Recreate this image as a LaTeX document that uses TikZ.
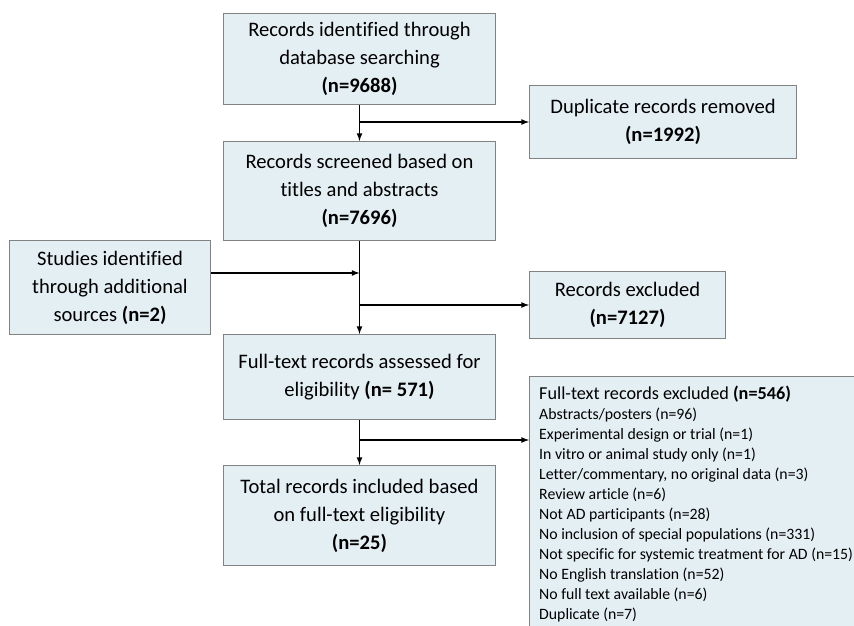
\documentclass[tikz,border=0pt]{standalone}
\usepackage{fontspec}
\setmainfont{Carlito}[Ligatures=NoCommon]
\usetikzlibrary{arrows, positioning, calc}
\definecolor{boxfill}{RGB}{228,239,244}
\definecolor{boxline}{RGB}{130,130,130}
\tikzset{
  flowbox/.style={draw=boxline, fill=boxfill, line width=1pt, anchor=north west,
                  inner sep=0pt, align=center, font=\fontsize{20.6}{28}\selectfont},
  listbox/.style={anchor=north west, inner sep=0pt, align=left,
                  font=\fontsize{15.8}{20}\selectfont},
  arrow/.style={-latex, line width=1.6pt},
}

\begin{document}
\begin{tikzpicture}[x=1pt, y=-1pt]
  \clip (0,0) rectangle (854,626);

  % Boxes
  \node[flowbox, minimum width=272pt, minimum height=91pt] (ident) at (223,13)
    {Records identified through\\database searching\\\textbf{(n=9688)}};
  \node[flowbox, minimum width=267pt, minimum height=73pt] (dupl) at (529,85)
    {Duplicate records removed\\\textbf{(n=1992)}};
  \node[flowbox, minimum width=272pt, minimum height=99pt] (screen) at (223,141)
    {Records screened based on\\titles and abstracts\\\textbf{(n=7696)}};
  \node[flowbox, minimum width=201pt, minimum height=94pt] (extra) at (9,240)
    {Studies identified\\through additional\\sources \textbf{(n=2)}};
  \node[flowbox, minimum width=196pt, minimum height=67pt] (excl) at (529,271)
    {Records excluded\\\textbf{(n=7127)}};
  \node[flowbox, minimum width=272pt, minimum height=85pt] (assess) at (223,334)
    {Full-text records assessed for\\eligibility \textbf{(n= 571)}};
  \node[flowbox, minimum width=272pt, minimum height=100pt] (incl) at (223,465)
    {Total records included based\\on full-text eligibility\\\textbf{(n=25)}};
  \node[flowbox, minimum width=340pt, minimum height=270pt] (ftexcl) at (529,376) {};
  \node[listbox] (reasons) at (539,386)
    {{\fontsize{18.2}{22}\selectfont Full-text records excluded \textbf{(n=546)}}\\
     Abstracts/posters (n=96)\\
     Experimental design or trial (n=1)\\
     In vitro or animal study only (n=1)\\
     Letter/commentary, no original data (n=3)\\
     Review article (n=6)\\
     Not AD participants (n=28)\\
     No inclusion of special populations (n=331)\\
     Not specific for systemic treatment for AD (n=15)\\
     No English translation (n=52)\\
     No full text available (n=6)\\
     Duplicate (n=7)};

  % Arrows
  \coordinate (split2) at ($(screen.south)+(0,32)$);
  \coordinate (split4) at ($(assess.south)+(0,20)$);
  \draw[arrow] (ident.south) -- (screen.north);
  \draw[arrow] (ident.south |- dupl.west) -- (dupl.west);
  \draw[arrow] (screen.south) -- (assess.north);
  \draw[arrow] (extra.east |- split2) -- (split2);
  \draw[arrow] (screen.south |- excl.west) -- (excl.west);
  \draw[arrow] (assess.south) -- (incl.north);
  \draw[arrow] (split4) -- (split4 -| ftexcl.west);
\end{tikzpicture}
\end{document}
